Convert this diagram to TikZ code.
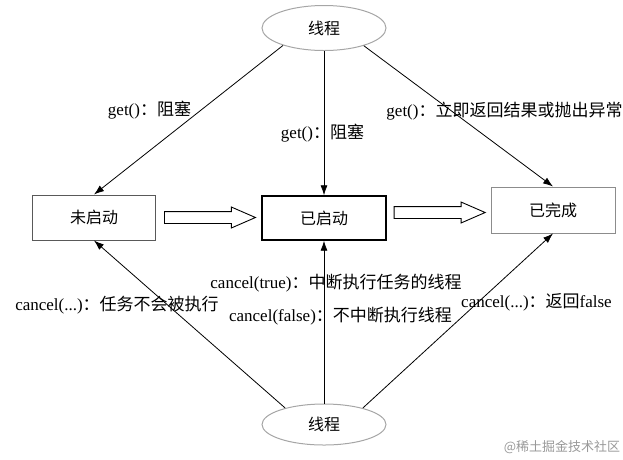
\documentclass[tikz,border=0pt]{standalone}
\usepackage{fontspec}
\setmainfont{Liberation Serif}
\newfontfamily\cjk{Noto Sans CJK SC}
\usetikzlibrary{arrows.meta,shapes.geometric,shapes.arrows,positioning}
\tikzset{
    thread/.style={
    ellipse,draw=black!35,line width=1pt,minimum width=124pt,minimum height=45pt,
    font=\cjk\fontsize{16}{19}\selectfont
    },
    statebox/.style={
    rectangle,draw=black!65,line width=1pt,minimum width=123pt,minimum height=45pt,
    font=\cjk\fontsize{16}{19}\selectfont
    },
    fatarrow/.style={
    single arrow,draw=black,fill=white,line width=0.9pt,inner xsep=0pt,inner ysep=5.5pt,
    minimum height=91pt,minimum width=20pt,single arrow head extend=4.5pt,
    single arrow tip angle=47
    },
    link/.style={
    line width=0.8pt,-{Latex[length=10pt,width=7pt]}
    },
    note/.style={
    font=\fontsize{17}{20}\selectfont,inner sep=0pt
    },
}
\begin{document}
\begin{tikzpicture}[x=1pt,y=-1pt]
   \useasboundingbox (0,0) rectangle (623,459);
   % threads
   \node[thread] (top) at (324,28) {线程};
   \node[thread,minimum height=41pt] (bottom) at (324,424.5) {线程};
   % states
   \node[statebox] (box1) at (94,217.5) {未启动};
   \node[statebox,draw=black,line width=1.4pt,minimum width=124pt,minimum height=44pt] (box2) at (324,218) {已启动};
   \node[statebox,draw=black!45,minimum width=124pt,minimum height=46pt] (box3) at (553,210) {已完成};
   \node[fatarrow,right=8pt of box1] (go1) {};
   \node[fatarrow,right=7pt of box2,yshift=5.5pt] (go2) {};
   % labels
   \node[note] (getleft) at (149.5,110) {get(){\cjk：阻塞}};
   \node[note] (getmid) at (322.5,133) {get(){\cjk：阻塞}};
   \node[note] (getright) at (504.5,111) {get(){\cjk：立即返回结果或抛出异常}};
   \node[note] (cancelleft) at (117,305) {cancel(...){\cjk：任务不会被执行}};
   \node[note] (canceltrue) at (336,283) {cancel(true){\cjk：中断执行任务的线程}};
   \node[note] (cancelfalse) at (340.5,316) {cancel(false){\cjk：不中断执行线程}};
   \node[note] (cancelright) at (536.5,302) {cancel(...){\cjk：返回}false};
   \node[font=\cjk\fontsize{13}{15}\selectfont,text=black!40,inner sep=0pt] (mark) at (562,447) {@稀土掘金技术社区};

  \path[link]
    (top.-157) edge (box1.north)
    (top) edge (box2)
    (top.-24) edge (box3.north)
    (bottom.157) edge (box1.south)
    (bottom) edge (box2)
    (bottom.23) edge (box3.south);
\end{tikzpicture}
\end{document}
